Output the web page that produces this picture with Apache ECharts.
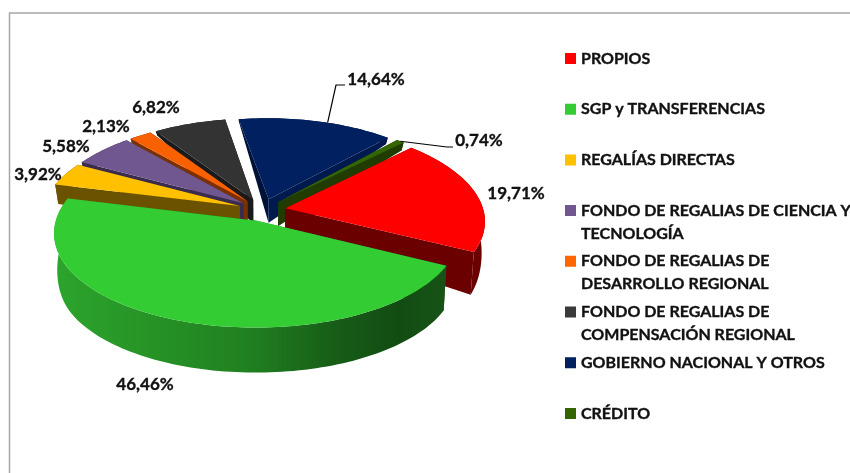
<!DOCTYPE html>
<html>
<head>
<meta charset="utf-8">
<style>html,body{margin:0;padding:0;background:#fff}#c{width:850px;height:473px}</style>
<script src="https://cdn.jsdelivr.net/npm/echarts@6/dist/echarts.min.js"></script>
</head>
<body>
<div id="c"></div>
<script>
// ---- data ----
const categories = ['PROPIOS','SGP y TRANSFERENCIAS','REGALÍAS DIRECTAS','FONDO DE REGALIAS DE CIENCIA Y TECNOLOGÍA','FONDO DE REGALIAS DE DESARROLLO REGIONAL','FONDO DE REGALIAS DE COMPENSACIÓN REGIONAL','GOBIERNO NACIONAL Y OTROS','CRÉDITO'];
const legendLabels = ['PROPIOS\n ','SGP y TRANSFERENCIAS\n ','REGALÍAS DIRECTAS\n ','FONDO DE REGALIAS DE CIENCIA Y\nTECNOLOGÍA','FONDO DE REGALIAS DE\nDESARROLLO REGIONAL','FONDO DE REGALIAS DE\nCOMPENSACIÓN REGIONAL','GOBIERNO NACIONAL Y OTROS\n ','CRÉDITO\n '];
const values = [19.71,46.46,3.92,5.58,2.13,6.82,14.64,0.74];

// ---- styles ----
const topColors = ['#FF0000','#33CC33','#FFC000','#715790','#F86000','#333333','#002060','#336600'];
const legendColors = ['#FF0000','#33CC33','#FFC000','#715790','#FF6600','#3A3A3A','#002060','#336600'];
const wallColors = ['#6B0000',null,'#6B5200','#3A2C4E','#7A3000','#1A1A1A','#001A50','#203C00'];
const startFaceColors = ['#6B0000',null,'#6B5200','#3A2C4E','#7A3000','#1A1A1A','#001238','#203C00'];
const drawOrder = [6,5,4,3,2,7,0,1];

// ---- layout ----
const CX = 262, CY = 210, RX = 198, EXPLODE = 0.12, START_DEG = 45.5;
const sliceNudge = {1:[3,0]};
const labelCentres = [[516,194],[145,385],[38,175],[66,147],[106,127],[156,108],[376,80],[479,141]];
const leaderElbows = {6:[[336,85],[345,85]], 7:[[447,147],[453,147]]};
const leaderAngleShift = {6:4, 7:0};
const FONT = 'Lato';

const total = values.reduce((a,b)=>a+b,0);
function wallHeight(v){
  if(v<0){const t=Math.max(v,-1);return 26*(1+t)+3*(-t);}
  return 26+19*Math.sin(Math.min(1,v*1.6)*Math.PI/2);
}
function project(u,v,level){
  let x = RX*u*(1+0.13*v), y = v*(94+10.5*v);
  if(level){x*=0.985; y+=wallHeight(v);}
  return [CX+x, CY+y];
}
function polar(deg,r,mid,level,nudge){
  const a=deg*Math.PI/180,m=mid*Math.PI/180;
  const u=r*Math.sin(a)+EXPLODE*Math.sin(m);
  const v=-r*Math.cos(a)-EXPLODE*Math.cos(m);
  const p=project(u,v,level);
  return nudge?[p[0]+nudge[0],p[1]+nudge[1]]:p;
}
function slicePoints(i){
  let sum=0; for(let k=0;k<i;k++) sum+=values[k];
  const a0=START_DEG+sum/total*360, a1=a0+values[i]/total*360;
  return {a0,a1,mid:(a0+a1)/2};
}
function poly(points,fill,extra){
  return Object.assign({type:'polygon',silent:true,shape:{points},style:{fill,stroke:null}},extra||{});
}
function fmt(v){return v.toFixed(2).replace('.',',')+'%';}
const greenWall = new echarts.graphic.LinearGradient(0,0,1,0,[
  {offset:0,color:'#2CA52C'},{offset:0.5,color:'#208020'},{offset:0.72,color:'#175C17'},
  {offset:0.88,color:'#124C12'},{offset:1,color:'#175317'}]);

function renderSlice(i){
  return function(params,api){
    const val=api.value(0);
    const {a0,a1,mid}=slicePoints(i);
    const nd=sliceNudge[i];
    const arcT=[],arcB=[];
    const n=Math.max(2,Math.ceil((a1-a0)/1.5));
    for(let k=0;k<=n;k++){
      const d=a0+(a1-a0)*k/n;
      arcT.push(polar(d,1,mid,0,nd)); arcB.push(polar(d,1,mid,1,nd));
    }
    const apexT=polar(0,0,mid,0,nd), apexB=polar(0,0,mid,1,nd);
    const wall=wallColors[i]||greenWall, face=startFaceColors[i]||greenWall;
    const kids=[];
    kids.push(poly([apexT,arcT[0],arcB[0],apexB],face));
    kids.push(poly([apexT,arcT[n],arcB[n],apexB],wall));
    kids.push(poly(arcT.concat(arcB.slice().reverse()),wall));
    kids.push(poly([apexT].concat(arcT),topColors[i]));
    const c=labelCentres[i];
    if(leaderElbows[i]){
      const s=polar(mid+leaderAngleShift[i],1,mid,0,nd);
      kids.push({type:'polyline',silent:true,shape:{points:[s].concat(leaderElbows[i])},style:{stroke:'#000',lineWidth:1.2,fill:null}});
    }
    kids.push({type:'text',silent:true,x:c[0],y:c[1],style:{text:fmt(val),fill:'#111',font:'bold 17px '+FONT,align:'center',verticalAlign:'middle',stroke:'#111',lineWidth:0.35}});
    return {type:'group',children:kids};
  };
}

const series = drawOrder.map(i=>({
  type:'custom',name:categories[i],coordinateSystem:'none',animation:false,silent:true,
  itemStyle:{color:legendColors[i]},
  data:[[values[i]]],renderItem:renderSlice(i)
}));

const legendTop = i=>47+i*50.7;
const legends = categories.map((name,i)=>({
  data:[{name,icon:'path://M0 0H11V11H0ZM0 34L0 34Z'}],
  orient:'vertical',left:565,top:legendTop(i),padding:0,itemWidth:11,itemHeight:34,itemGap:0,
  selectedMode:false,
  formatter:()=>legendLabels[i],
  textStyle:{fontFamily:FONT,fontWeight:'bold',fontSize:16,lineHeight:23,color:'#111',textBorderColor:'#111',textBorderWidth:0.35}
}));

const chart = echarts.init(document.getElementById('c'),null,{renderer:'canvas'});
chart.setOption({
  animation:false,backgroundColor:'#fff',
  tooltip:{show:false},
  legend:legends,
  graphic:[{type:'polyline',silent:true,z:-1,shape:{points:[[9.5,473],[9.5,13],[850,13]]},style:{stroke:'#A6A6A6',lineWidth:1.5,fill:null}}],
  series
});
</script>
</body>
</html>
